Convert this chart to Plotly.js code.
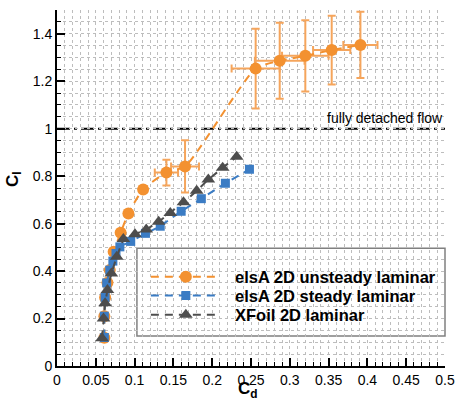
<!DOCTYPE html>
<html><head><meta charset="utf-8">
<script src="https://cdn.plot.ly/plotly-3.0.1.min.js"></script>
<style>html,body{margin:0;padding:0;background:#fff}#chart{width:455px;height:398px}</style>
</head><body><div id="chart"></div>
<script>
// elsA 2D unsteady laminar
const unsteadyCd = [0.061, 0.061, 0.062, 0.065, 0.068, 0.073, 0.082, 0.092, 0.111, 0.141, 0.165, 0.256, 0.287, 0.320, 0.354, 0.391];
const unsteadyCl = [0.119, 0.210, 0.289, 0.351, 0.404, 0.481, 0.561, 0.643, 0.744, 0.815, 0.841, 1.253, 1.286, 1.307, 1.331, 1.353];
const unsteadyErrCl = [null, null, null, null, null, null, null, null, null, 0.054, 0.11, 0.168, 0.16, 0.15, 0.145, 0.14];
const unsteadyErrCd = [null, null, null, null, null, null, null, null, null, 0.015, 0.018, 0.031, 0.032, 0.030, 0.024, 0.022];
// elsA 2D steady laminar
const steadyCd = [0.061, 0.061, 0.062, 0.064, 0.068, 0.072, 0.076, 0.081, 0.095, 0.114, 0.133, 0.160, 0.186, 0.217, 0.248];
const steadyCl = [0.120, 0.210, 0.289, 0.350, 0.404, 0.442, 0.474, 0.502, 0.525, 0.559, 0.589, 0.652, 0.705, 0.770, 0.829];
// XFoil 2D laminar
const xfoilCd = [0.058, 0.060, 0.062, 0.065, 0.070, 0.077, 0.0855, 0.1005, 0.115, 0.131, 0.146, 0.163, 0.180, 0.195, 0.2135, 0.2315];
const xfoilCl = [0.117, 0.200, 0.264, 0.320, 0.390, 0.460, 0.535, 0.555, 0.575, 0.608, 0.645, 0.690, 0.738, 0.786, 0.835, 0.882];

const seriesNames = ['elsA 2D unsteady laminar', 'elsA 2D steady laminar', 'XFoil 2D laminar'];
const detachedCl = 1.0;
const detachedLabel = 'fully detached flow';
const xTitle = 'C<sub>d</sub>';
const yTitle = 'C<sub>l</sub>';
const xTickVals = [0, 0.05, 0.1, 0.15, 0.2, 0.25, 0.3, 0.35, 0.4, 0.45, 0.5];
const xTickText = ['0', '0.05', '0.1', '0.15', '0.2', '0.25', '0.3', '0.35', '0.4', '0.45', '0.5'];
const yTickVals = [0, 0.2, 0.4, 0.6, 0.8, 1, 1.2, 1.4];
const yTickText = ['0', '0.2', '0.4', '0.6', '0.8', '1', '1.2', '1.4'];

const ORANGE = '#f39130', BLUE = '#3b7cc4', GRAY = '#4d4d4d', ERR = '#f5a55c';
const FONT = 'Liberation Sans, Arial, Helvetica, sans-serif';
const DASH = '8px,6px';
const PAD = '\u00a0\u00a0';

const traces = [
  {x: unsteadyCd, y: unsteadyCl, name: PAD + seriesNames[0], legend: 'legend', type: 'scatter', mode: 'lines+markers',
   line: {color: ORANGE, width: 2, dash: DASH, shape: 'spline', smoothing: 0.6},
   marker: {symbol: 'circle', size: 12, color: ORANGE},
   error_y: {type: 'data', array: unsteadyErrCl, color: ERR, thickness: 2, width: 4},
   error_x: {type: 'data', array: unsteadyErrCd, color: ERR, thickness: 2, width: 4}},
  {x: steadyCd, y: steadyCl, name: PAD + seriesNames[1], legend: 'legend2', type: 'scatter', mode: 'lines+markers',
   line: {color: BLUE, width: 2, dash: DASH},
   marker: {symbol: 'square', size: 9, color: BLUE}},
  {x: xfoilCd, y: xfoilCl, name: PAD + seriesNames[2], legend: 'legend3', type: 'scatter', mode: 'lines+markers',
   line: {color: GRAY, width: 2, dash: DASH},
   marker: {symbol: 'triangle-up', size: 12, color: GRAY}}
];

function legendAt(yPaper) {
  return {x: 0.229, y: yPaper, xanchor: 'left', yanchor: 'middle', bgcolor: 'rgba(0,0,0,0)', borderwidth: 0,
          font: {family: FONT, size: 16.5, weight: 'bold', color: '#000'}, itemwidth: 70};
}

const gridColor = '#bdbdbd';

const layout = {
  width: 455, height: 398,
  margin: {l: 57, r: 10, t: 10, b: 32, autoexpand: false},
  paper_bgcolor: '#fff', plot_bgcolor: '#fff',
  font: {family: FONT, size: 14, color: '#000'},
  showlegend: true,
  legend: legendAt(0.250),
  legend2: legendAt(0.197),
  legend3: legendAt(0.143),
  xaxis: {range: [0, 0.5], tickmode: 'array', tickvals: xTickVals, ticktext: xTickText,
          ticks: 'inside', ticklen: 8, tickwidth: 2, tickcolor: '#000',
          showline: true, linecolor: '#000', linewidth: 2, zeroline: false,
          tickfont: {family: FONT, size: 14},
          showgrid: true, gridcolor: gridColor, gridwidth: 1, griddash: 'dot',
          minor: {dtick: 0.01, ticks: 'inside', ticklen: 4, tickwidth: 1, tickcolor: '#000',
                  showgrid: true, gridcolor: gridColor, gridwidth: 1, griddash: 'dot'},
          automargin: false},
  yaxis: {range: [0, 1.5], tickmode: 'array', tickvals: yTickVals, ticktext: yTickText,
          ticks: 'inside', ticklen: 8, tickwidth: 2, tickcolor: '#000',
          showline: true, linecolor: '#000', linewidth: 2, zeroline: false,
          tickfont: {family: FONT, size: 14},
          showgrid: true, gridcolor: gridColor, gridwidth: 1, griddash: 'dot',
          minor: {dtick: 0.05, ticks: 'inside', ticklen: 4, tickwidth: 1, tickcolor: '#000',
                  showgrid: true, gridcolor: gridColor, gridwidth: 1, griddash: 'dot'},
          automargin: false},
  shapes: [
    {type: 'line', xref: 'paper', yref: 'y', x0: 0, x1: 1, y0: detachedCl, y1: detachedCl,
     line: {color: '#000', width: 2, dash: '13px,4px,3px,4px'}, layer: 'below'},
    {type: 'rect', xref: 'paper', yref: 'paper', x0: 0.206, x1: 1.0, y0: 0.084, y1: 0.331,
     line: {color: '#808080', width: 1.5}, fillcolor: '#fff', layer: 'below'}
  ],
  annotations: [
    {xref: 'paper', yref: 'y', x: 1, y: detachedCl, xanchor: 'right', yanchor: 'bottom', yshift: 1,
     text: detachedLabel, showarrow: false, font: {family: FONT, size: 14, color: '#000'}},
    {xref: 'paper', yref: 'paper', x: 0.492, y: -0.068, xanchor: 'center', yanchor: 'middle',
     text: xTitle, showarrow: false, font: {family: FONT, size: 17, weight: 'bold', color: '#000'}},
    {xref: 'paper', yref: 'paper', x: -0.111, y: 0.525, xanchor: 'center', yanchor: 'middle', textangle: -90,
     text: yTitle, showarrow: false, font: {family: FONT, size: 17, weight: 'bold', color: '#000'}}
  ]
};

Plotly.newPlot('chart', traces, layout, {displayModeBar: false, staticPlot: true});
</script>
</body></html>
